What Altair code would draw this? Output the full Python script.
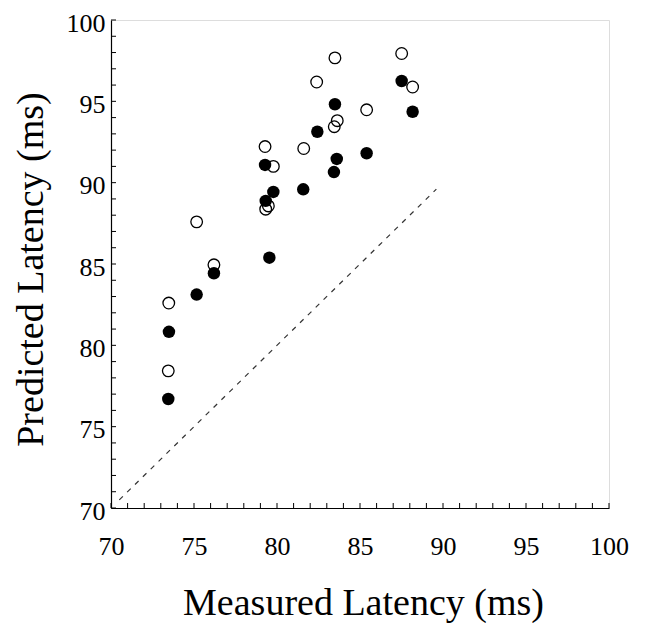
import altair as alt
import pandas as pd

# Open circles (measured, predicted)
open_x = [73.48, 73.45, 75.16, 76.20, 79.28, 79.78, 79.32, 79.48, 81.61, 82.39, 83.49, 83.63, 83.45, 85.40, 87.51, 88.17]
open_y = [82.60, 78.43, 87.59, 84.95, 92.22, 91.00, 88.37, 88.57, 92.10, 96.19, 97.67, 93.81, 93.44, 94.48, 97.94, 95.88]
# Filled circles
filled_x = [73.45, 73.49, 75.16, 76.20, 79.54, 79.32, 79.28, 79.78, 81.58, 82.43, 83.49, 83.43, 83.60, 85.40, 87.51, 88.17]
filled_y = [76.70, 80.83, 83.12, 84.43, 85.39, 88.88, 91.09, 89.43, 89.59, 93.13, 94.82, 90.65, 91.46, 91.81, 96.25, 94.36]
# Identity line
line_vals = [70.5, 89.6]
# Axis ticks and labels
label_values = [70, 75, 80, 85, 90, 95, 100]
tick_values = list(range(70, 101))

W, H = 498, 488
FONT = "Liberation Serif"

open_df = pd.DataFrame({"x": open_x, "y": open_y})
filled_df = pd.DataFrame({"x": filled_x, "y": filled_y})
line_df = pd.DataFrame({"x": line_vals, "y": line_vals})
ticks_df = pd.DataFrame({"t": tick_values})

xscale = alt.Scale(domain=[70, 100], nice=False, zero=False)
yscale = alt.Scale(domain=[70, 100], nice=False, zero=False)

xaxis = alt.Axis(values=label_values, grid=False, ticks=False, tickSize=0,
                 domainColor="black", domainWidth=1.2,
                 labelFont=FONT, labelFontSize=26, labelColor="black",
                 labelPadding=25, labelFlush=False,
                 title="Measured Latency (ms)", titleFont=FONT, titleFontSize=38,
                 titleFontWeight="normal", titleColor="black",
                 titleBaseline="alphabetic", titleX=252, titleY=106)
yaxis = alt.Axis(values=label_values, grid=False, ticks=False, tickSize=0,
                 domainColor="black", domainWidth=1.2,
                 labelFont=FONT, labelFontSize=26, labelColor="black",
                 labelPadding=6, labelFlush=False, labelOffset=3,
                 title="Predicted Latency (ms)", titleFont=FONT, titleFontSize=38,
                 titleFontWeight="normal", titleColor="black",
                 titleBaseline="alphabetic", titleX=-69, titleY=249, titleAngle=270)

base_x = alt.X("x:Q", scale=xscale, axis=xaxis)
base_y = alt.Y("y:Q", scale=yscale, axis=yaxis)

diag = alt.Chart(line_df).mark_line(color="#333333", strokeWidth=1.2, strokeDash=[5, 6]).encode(
    x=base_x, y=base_y)

xticks = alt.Chart(ticks_df).mark_rule(color="black", strokeWidth=1).encode(
    x=alt.X("t:Q", scale=xscale), y=alt.value(H), y2=alt.value(H - 5))
yticks = alt.Chart(ticks_df).mark_rule(color="black", strokeWidth=1).encode(
    y=alt.Y("t:Q", scale=yscale), x=alt.value(0), x2=alt.value(5))

open_pts = alt.Chart(open_df).mark_point(shape="circle", filled=False, color="black",
                                         strokeWidth=1.3, size=135, opacity=1).encode(
    x=alt.X("x:Q", scale=xscale), y=alt.Y("y:Q", scale=yscale))
filled_pts = alt.Chart(filled_df).mark_point(shape="circle", filled=True, color="black",
                                             size=155, opacity=1).encode(
    x=alt.X("x:Q", scale=xscale), y=alt.Y("y:Q", scale=yscale))

chart = alt.layer(diag, xticks, yticks, open_pts, filled_pts).properties(
    width=W, height=H,
    autosize=alt.AutoSizeParams(type="none"),
    padding={"left": 103, "top": 12, "right": 24, "bottom": 115},
).configure_view(stroke=None).configure(background="white")

chart.save("out.html", embed_options={"renderer": "svg", "actions": False})
